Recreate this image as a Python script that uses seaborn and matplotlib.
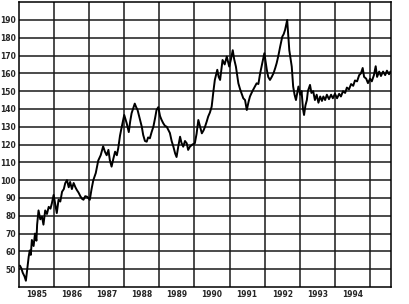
import matplotlib
matplotlib.use("Agg")
import matplotlib.pyplot as plt
import seaborn as sns
import numpy as np
import pandas as pd

# Decimal years and index values
years = [1985.03, 1985.07, 1985.11, 1985.16, 1985.20, 1985.24, 1985.28, 1985.31, 1985.34,
         1985.37, 1985.42, 1985.46, 1985.50, 1985.52, 1985.56, 1985.61, 1985.66, 1985.70,
         1985.75, 1985.80, 1985.85, 1985.90, 1985.94, 1985.99, 1986.04, 1986.08, 1986.13,
         1986.18, 1986.23, 1986.28, 1986.32, 1986.37, 1986.42, 1986.46, 1986.51, 1986.56,
         1986.61, 1986.65, 1986.70, 1986.75, 1986.80, 1986.84, 1986.89, 1986.94, 1987.02,
         1987.07, 1987.12, 1987.19, 1987.26, 1987.33, 1987.40, 1987.45, 1987.50, 1987.55,
         1987.59, 1987.64, 1987.69, 1987.74, 1987.79, 1987.83, 1987.88, 1987.93, 1988.00,
         1988.07, 1988.13, 1988.17, 1988.21, 1988.25, 1988.30, 1988.34, 1988.38, 1988.45,
         1988.50, 1988.54, 1988.59, 1988.64, 1988.68, 1988.73, 1988.78, 1988.83, 1988.88,
         1988.92, 1988.97, 1989.02, 1989.06, 1989.11, 1989.16, 1989.21, 1989.26, 1989.30,
         1989.35, 1989.40, 1989.45, 1989.49, 1989.54, 1989.59, 1989.63, 1989.68, 1989.73,
         1989.78, 1989.82, 1989.87, 1989.94, 1990.01, 1990.06, 1990.11, 1990.16, 1990.21,
         1990.26, 1990.30, 1990.35, 1990.39, 1990.44, 1990.49, 1990.54, 1990.58, 1990.65,
         1990.69, 1990.73, 1990.80, 1990.86, 1990.92, 1990.99, 1991.04, 1991.09, 1991.13,
         1991.18, 1991.25, 1991.30, 1991.34, 1991.39, 1991.44, 1991.49, 1991.54, 1991.58,
         1991.65, 1991.72, 1991.77, 1991.82, 1991.87, 1991.91, 1991.99, 1992.03, 1992.06,
         1992.10, 1992.15, 1992.20, 1992.25, 1992.30, 1992.34, 1992.39, 1992.44, 1992.50,
         1992.54, 1992.58, 1992.64, 1992.70, 1992.77, 1992.81, 1992.85, 1992.89, 1992.96,
         1993.01, 1993.05, 1993.09, 1993.12, 1993.16, 1993.20, 1993.23, 1993.29, 1993.33,
         1993.38, 1993.43, 1993.48, 1993.53, 1993.58, 1993.63, 1993.67, 1993.72, 1993.77,
         1993.83, 1993.89, 1993.94, 1994.00, 1994.06, 1994.12, 1994.17, 1994.23, 1994.29,
         1994.34, 1994.40, 1994.46, 1994.52, 1994.57, 1994.63, 1994.69, 1994.74, 1994.79,
         1994.83, 1994.89, 1994.94, 1995.00, 1995.05, 1995.11, 1995.16, 1995.20, 1995.26,
         1995.31, 1995.37, 1995.43, 1995.48, 1995.54, 1995.58]
values = [52.0, 50.5, 48.0, 46.0, 43.5, 50.0, 57.0, 60.5, 58.0,
          66.4, 63.0, 70.0, 66.0, 75.0, 83.0, 78.0, 79.5, 75.0,
          83.0, 81.0, 85.0, 84.0, 87.0, 91.7, 86.0, 81.5, 89.0,
          88.0, 93.5, 95.0, 98.3, 100.0, 96.0, 99.0, 95.0, 98.4,
          96.0, 94.5, 93.0, 91.0, 89.5, 89.0, 91.0, 90.7, 89.0,
          95.0, 100.0, 104.0, 111.0, 114.0, 119.0, 116.0, 114.0, 117.0,
          111.3, 107.6, 112.0, 116.0, 114.0, 118.0, 125.0, 130.0, 136.6,
          132.0, 127.0, 133.0, 137.6, 140.0, 143.0, 141.0, 139.4, 134.0,
          130.0, 125.4, 122.0, 121.6, 124.0, 123.5, 127.0, 130.0, 135.0,
          139.4, 141.0, 136.0, 134.0, 132.0, 130.5, 130.0, 128.0, 126.5,
          122.0, 118.8, 115.0, 113.0, 119.0, 124.4, 121.0, 118.8, 122.0,
          120.7, 117.0, 118.8, 120.0, 120.7, 126.0, 133.8, 130.0, 126.3,
          128.0, 130.0, 133.0, 135.7, 138.0, 141.3, 150.0, 156.3, 162.0,
          158.0, 156.3, 167.5, 165.0, 169.4, 163.8, 168.0, 173.0, 168.0,
          163.8, 154.4, 151.0, 148.8, 146.0, 145.0, 139.4, 144.0, 147.0,
          150.0, 152.6, 154.4, 154.0, 160.0, 163.8, 171.3, 166.0, 162.0,
          158.0, 156.3, 158.0, 160.0, 163.0, 165.7, 170.0, 175.0, 180.6,
          182.0, 184.4, 190.0, 173.0, 163.8, 152.6, 148.0, 145.0, 152.6,
          148.0, 150.0, 140.0, 136.6, 142.0, 145.0, 150.0, 153.5, 149.0,
          150.0, 145.0, 148.0, 143.5, 147.0, 144.5, 147.0, 145.0, 148.0,
          145.5, 148.0, 146.0, 148.5, 146.0, 148.5, 147.0, 150.0, 149.0,
          152.0, 151.0, 154.0, 153.0, 156.0, 155.5, 159.0, 160.0, 163.0,
          158.0, 157.0, 154.5, 157.0, 155.5, 159.0, 164.0, 158.0, 161.0,
          158.5, 161.0, 159.0, 161.5, 159.5, 161.0]

y_ticks = [50, 60, 70, 80, 90, 100, 110, 120, 130, 140, 150, 160, 170, 180, 190]
year_labels = ["1985", "1986", "1987", "1988", "1989", "1990", "1991", "1992", "1993", "1994"]

df = pd.DataFrame({"year": years, "value": values})

sns.set_theme(style="white")
plt.rcParams['font.family'] = ['DejaVu Sans']

fig = plt.figure(figsize=(4.10, 3.04), dpi=100)
ax = fig.add_axes([0.046, 0.056, 0.908, 0.937])

sns.lineplot(data=df, x="year", y="value", ax=ax, color="black", linewidth=1.4)

ax.set_xlim(1985.0, 1995.6)
ax.set_ylim(40, 200)

# grid
for yv in y_ticks:
    ax.axhline(yv, color="#1a1a1a", linewidth=1.1, zorder=0)
for xv in range(1986, 1996):
    ax.axvline(xv, color="#1a1a1a", linewidth=1.1, zorder=0)

ax.set_yticks(y_ticks)
ax.set_yticklabels([str(v) for v in y_ticks], fontsize=5.5, fontweight="bold")
ax.set_xticks([1985.5 + i for i in range(len(year_labels))])
ax.set_xticklabels(year_labels, fontsize=5.5, fontweight="bold")
ax.tick_params(axis="both", which="major", length=0, pad=2)
ax.set_xticks(np.arange(1985.0, 1995.6, 1/12), minor=True)
ax.tick_params(axis="x", which="minor", direction="inout", length=3, width=0.7, color="black")

for s in ax.spines.values():
    s.set_color("black")
    s.set_linewidth(1.1)

ax.set_xlabel("")
ax.set_ylabel("")

fig.savefig("out.png", dpi=100, facecolor="white")
